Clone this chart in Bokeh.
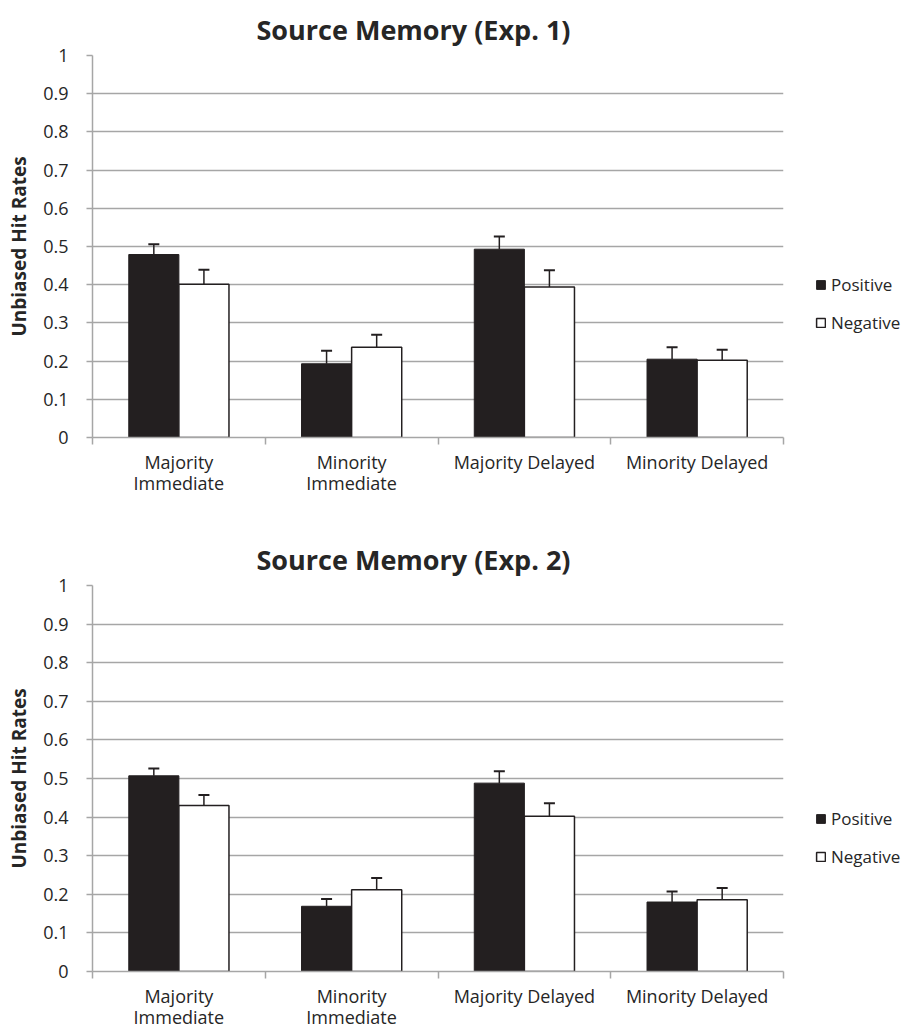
from bokeh.plotting import figure
from bokeh.models import (ColumnDataSource, FixedTicker, Whisker, TeeHead,
                          Legend, LegendItem, Range1d, Title)
from bokeh.transform import dodge
from bokeh.layouts import column
from bokeh.embed import file_html
from bokeh.resources import INLINE
import numpy as np

# ---- data -------------------------------------------------------------
categories = ["Majority Immediate", "Minority Immediate",
              "Majority Delayed", "Minority Delayed"]
category_labels = ["Majority\nImmediate", "Minority\nImmediate",
                   "Majority Delayed", "Minority Delayed"]
series_names = ["Positive", "Negative"]

y_ticks = [0, 0.1, 0.2, 0.3, 0.4, 0.5, 0.6, 0.7, 0.8, 0.9, 1]
y_tick_labels = ["0", "0.1", "0.2", "0.3", "0.4", "0.5",
                 "0.6", "0.7", "0.8", "0.9", "1"]

exp1_positive = [0.479, 0.193, 0.493, 0.205]
exp1_positive_se = [0.027, 0.034, 0.033, 0.031]
exp1_negative = [0.401, 0.236, 0.394, 0.202]
exp1_negative_se = [0.038, 0.033, 0.044, 0.028]

exp2_positive = [0.507, 0.169, 0.488, 0.180]
exp2_positive_se = [0.019, 0.019, 0.031, 0.027]
exp2_negative = [0.430, 0.212, 0.402, 0.186]
exp2_negative_se = [0.027, 0.030, 0.034, 0.030]

# ---- styling ------------------------------------------------------------
FONT = "Open Sans"
GRID = "#a6a6a6"
TEXT = "#262626"
DARK = "#231f20"
BAR_W = 0.29
OFFSET = 0.145


def make_chart(title, pos, pos_se, neg, neg_se, frame_h, border_bottom):
    centers = np.arange(len(categories)) + 0.5
    src = ColumnDataSource(dict(
        x=centers, pos=pos, neg=neg,
        pos_hi=np.array(pos) + np.array(pos_se),
        neg_hi=np.array(neg) + np.array(neg_se),
    ))

    p = figure(frame_width=691, frame_height=frame_h, output_backend="svg",
               toolbar_location=None, x_range=Range1d(0, len(categories)),
               y_range=Range1d(0, 1), min_border_left=92,
               min_border_right=134, min_border_top=55,
               min_border_bottom=border_bottom)
    p.title = Title(text=title, align="left", offset=164, text_font=FONT,
                    text_font_size="27px", text_font_style="bold",
                    text_color=TEXT, standoff=15)
    p.outline_line_color = None
    p.background_fill_color = "white"

    # axes
    p.yaxis.ticker = FixedTicker(ticks=y_ticks)
    p.yaxis.major_label_overrides = {t: s for t, s in zip(y_ticks, y_tick_labels)}
    p.yaxis.axis_label = "Unbiased Hit Rates"
    p.yaxis.axis_label_text_font = FONT
    p.yaxis.axis_label_text_font_size = "19px"
    p.yaxis.axis_label_text_font_style = "bold"
    p.yaxis.axis_label_text_color = TEXT
    p.yaxis.axis_label_standoff = 8
    p.yaxis.major_label_text_font = FONT
    p.yaxis.major_label_text_font_size = "18px"
    p.yaxis.major_label_text_color = TEXT
    p.yaxis.major_label_standoff = 18
    p.yaxis.axis_line_color = GRID
    p.yaxis.axis_line_width = 1.5
    p.yaxis.major_tick_line_color = GRID
    p.yaxis.major_tick_line_width = 1.5
    p.yaxis.major_tick_out = 6
    p.yaxis.major_tick_in = 0
    p.yaxis.minor_tick_line_color = None

    p.xaxis.ticker = FixedTicker(ticks=list(centers),
                                 minor_ticks=list(range(len(categories) + 1)))
    p.xaxis.major_label_overrides = {float(c): s for c, s in zip(centers, category_labels)}
    p.xaxis.major_label_text_font = FONT
    p.xaxis.major_label_text_font_size = "18px"
    p.xaxis.major_label_text_color = TEXT
    p.xaxis.major_label_text_line_height = 0.9
    p.xaxis.major_label_standoff = 5
    p.xaxis.axis_line_color = GRID
    p.xaxis.axis_line_width = 1.5
    p.xaxis.major_tick_line_color = None
    p.xaxis.major_tick_out = 0
    p.xaxis.minor_tick_line_color = GRID
    p.xaxis.minor_tick_line_width = 1.5
    p.xaxis.minor_tick_out = 7
    p.xaxis.minor_tick_in = 0

    p.xgrid.grid_line_color = None
    p.ygrid.ticker = FixedTicker(ticks=y_ticks[1:])
    p.ygrid.grid_line_color = GRID
    p.ygrid.grid_line_width = 1.5

    # bars
    r_pos = p.vbar(x=dodge("x", -OFFSET), top="pos", width=BAR_W, source=src,
                   fill_color=DARK, line_color=DARK, line_width=1)
    r_neg = p.vbar(x=dodge("x", OFFSET), top="neg", width=BAR_W, source=src,
                   fill_color="white", line_color=DARK, line_width=1.5)

    # upward error bars
    for xf, lo, hi in ((dodge("x", -OFFSET), "pos", "pos_hi"),
                       (dodge("x", OFFSET), "neg", "neg_hi")):
        w = Whisker(base=xf, lower=lo, upper=hi, source=src,
                    line_color=DARK, line_width=1.5, lower_head=None,
                    upper_head=TeeHead(size=11, line_color=DARK, line_width=2))
        p.add_layout(w)

    legend = Legend(items=[LegendItem(label=series_names[0], renderers=[r_pos]),
                           LegendItem(label=series_names[1], renderers=[r_neg])],
                    location=(32, 103), orientation="vertical",
                    glyph_width=11, glyph_height=11, label_height=20,
                    spacing=15, label_standoff=5, padding=0, margin=0,
                    border_line_color=None, background_fill_alpha=0,
                    label_text_font=FONT, label_text_font_size="17px",
                    label_text_color=TEXT)
    p.add_layout(legend, "right")
    return p


chart1 = make_chart("Source Memory (Exp. 1)", exp1_positive, exp1_positive_se,
                    exp1_negative, exp1_negative_se, 382, 93)
chart2 = make_chart("Source Memory (Exp. 2)", exp2_positive, exp2_positive_se,
                    exp2_negative, exp2_negative_se, 386, 65)

layout = column(chart1, chart2, spacing=0)
open("out.html", "w").write(file_html(layout, INLINE))
